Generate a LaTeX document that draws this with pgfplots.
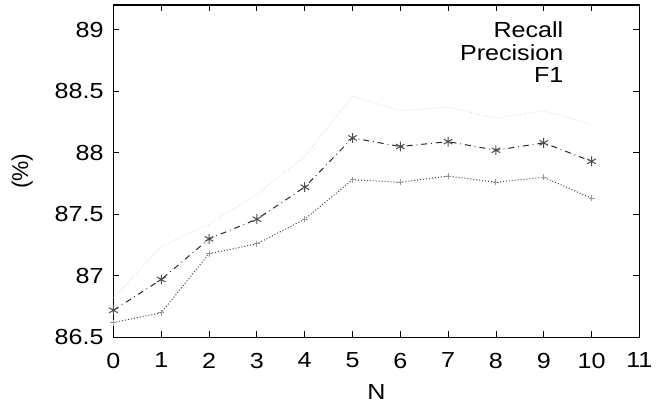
\documentclass[border=0pt]{standalone}
\usepackage{fontspec}
\setmainfont{Liberation Sans}[FakeStretch=1.15]
\newfontfamily\plainsans{Liberation Sans}
\usepackage{pgfplots}
\pgfplotsset{compat=1.18}
\begin{document}
\begin{tikzpicture}
\begin{axis}[
    width=265pt, height=167.5pt,
    scale only axis,
    xmin=0, xmax=11,
    ymin=86.5, ymax=89.2,
    xtick={0,1,...,11},
    ytick={86.5,87,87.5,88,88.5,89},
    tick align=inside,
    tick pos=both,
    major tick length=3pt,
    tick style={black, line width=0.4pt},
    axis line style={black, line width=0.6pt},
    /pgf/number format/assume math mode=true,
    /pgf/number format/fixed,
    tick label style={font=\fontsize{11}{13}\selectfont},
    xticklabel style={yshift=-4.3pt},
    yticklabel style={xshift=-1.5pt},
    xlabel={N},
    ylabel={(\%)},
    xlabel style={font=\fontsize{11}{13}\selectfont,
        at={(axis description cs:0.5,0)}, anchor=north, yshift=-20pt},
    ylabel style={font=\plainsans\fontsize{11.5}{13}\selectfont, name=ylab,
        at={(axis description cs:-0.14,0.5)}, anchor=south},
    legend style={draw=none, fill=none, at={(0.875,0.975)}, anchor=north east,
        font=\fontsize{11}{13}\selectfont, cells={anchor=east}, row sep=-2pt},
    legend cell align=right,
    legend plot pos=none,
]
% Recall (nearly invisible in the scan)
\addplot[gray!35, densely dotted, line width=0.4pt] coordinates {
    (0,86.82) (1,87.24) (2,87.42) (3,87.66) (4,87.97) (5,88.46)
    (6,88.34) (7,88.37) (8,88.28) (9,88.34) (10,88.23)
};
\addlegendentry{Recall}
% Precision
\addplot[black!75, densely dotted, line width=0.5pt, mark=+, mark size=1.5pt,
    mark options={solid, black!40}] coordinates {
    (0,86.62) (1,86.70) (2,87.18) (3,87.26) (4,87.46) (5,87.78)
    (6,87.76) (7,87.81) (8,87.76) (9,87.80) (10,87.63)
};
\addlegendentry{Precision}
% F1
\addplot[black!85, dash dot, line width=0.5pt, mark=asterisk, mark size=2.5pt,
    mark options={solid, black!70}] coordinates {
    (0,86.72) (1,86.97) (2,87.30) (3,87.46) (4,87.72) (5,88.12)
    (6,88.05) (7,88.09) (8,88.02) (9,88.08) (10,87.93)
};
\addlegendentry{F1}
\end{axis}
\path ([yshift=2.5pt]current axis.north) circle (0pt);
\path ([xshift=-2.3pt]ylab.north) circle (0pt);
\end{tikzpicture}
\end{document}
